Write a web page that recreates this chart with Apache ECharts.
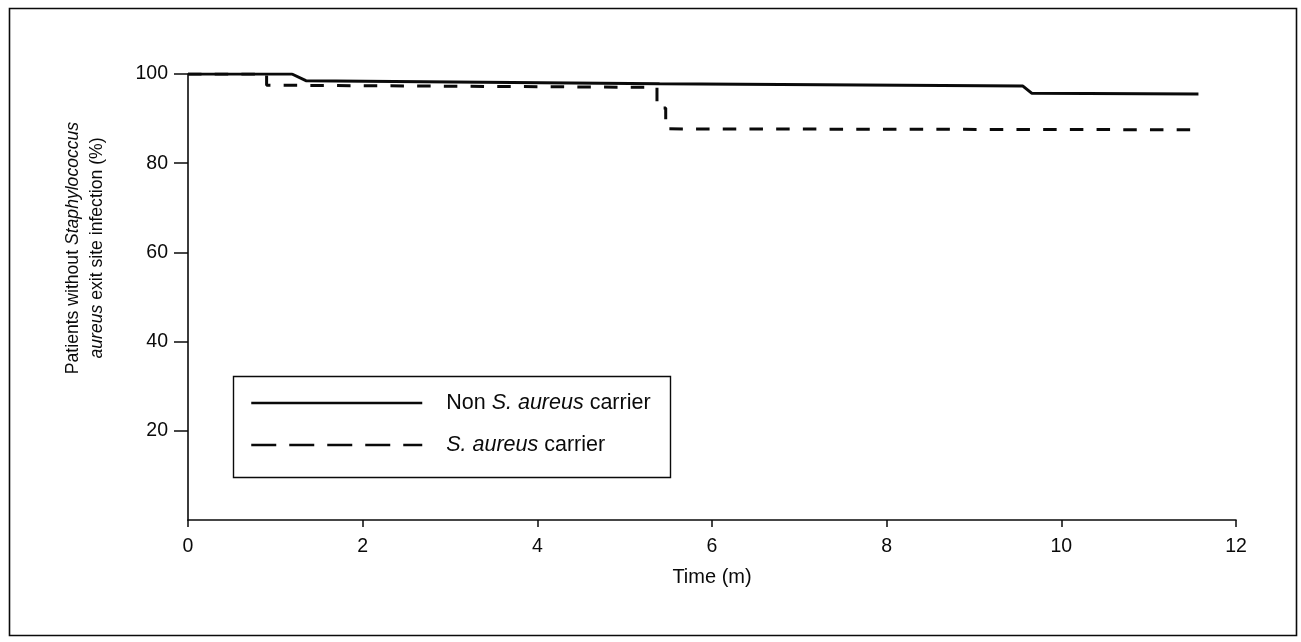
<!DOCTYPE html>
<html>
<head>
<meta charset="utf-8">
<script src="https://cdn.jsdelivr.net/npm/echarts@6/dist/echarts.min.js"></script>
<style>html,body{margin:0;padding:0;background:#fff;}#c{width:1301px;height:642px;}</style>
</head>
<body>
<div id="c"></div>
<script>
// Kaplan-Meier style curves: time (months) and % without S. aureus exit site infection
var nonCarrierTime = [0, 1.19, 1.35, 5.4, 9.56, 9.66, 11.57];
var nonCarrierPct  = [100, 100, 98.5, 97.8, 97.3, 95.7, 95.5];
var carrierTime = [0, 0.9, 0.9, 5.37, 5.37, 5.47, 5.47, 11.51];
var carrierPct  = [100, 100, 97.5, 97.0, 92.4, 92.4, 87.7, 87.5];
var xTicks = [0, 2, 4, 6, 8, 10, 12];
var yTicks = [20, 40, 60, 80, 100];
var seriesNames = ['nonCarrier', 'carrier'];

function pairs(t, v) { return t.map(function (x, i) { return [x, v[i]]; }); }

var FONT = '"Liberation Sans", Arial, Helvetica, sans-serif';
var INK = '#0a0a0a';
var chart = echarts.init(document.getElementById('c'), null, { renderer: 'canvas' });

chart.setOption({
  backgroundColor: '#fff',
  animation: false,
  color: [INK, INK],
  grid: { left: 188, right: 65, top: 74, bottom: 122, containLabel: false },
  xAxis: {
    type: 'value', min: 0, max: 12, interval: 2,
    name: 'Time (m)', nameLocation: 'middle', nameGap: 47,
    nameTextStyle: { fontFamily: FONT, fontSize: 20, color: INK },
    axisLine: { lineStyle: { color: INK, width: 1.6 } },
    axisTick: { show: true, length: 7, lineStyle: { color: INK, width: 1.5 }, customValues: xTicks },
    axisLabel: { fontFamily: FONT, fontSize: 19.5, color: INK, margin: 17, customValues: xTicks },
    splitLine: { show: false }
  },
  yAxis: {
    type: 'value', min: 0, max: 100, interval: 20,
    axisLine: { show: true, lineStyle: { color: INK, width: 1.6 } },
    axisTick: { show: true, length: 14, lineStyle: { color: INK, width: 1.5 }, customValues: yTicks },
    axisLabel: { fontFamily: FONT, fontSize: 19.5, color: INK, margin: 20, customValues: yTicks },
    splitLine: { show: false }
  },
  legend: {
    orient: 'vertical', left: 250, top: 392, padding: 0,
    itemWidth: 171, itemHeight: 22, itemGap: 20,
    itemStyle: { opacity: 0 },
    data: [
      { name: seriesNames[0], lineStyle: { type: 'solid', width: 2.5, color: INK }, itemStyle: { opacity: 0 } },
      { name: seriesNames[1], lineStyle: { type: [25, 13], width: 2.5, color: INK }, itemStyle: { opacity: 0 } }
    ],
    formatter: function (n) {
      return n === 'nonCarrier'
        ? '{p|}{n|Non }{i|S. aureus}{n| carrier}'
        : '{p|}{i|S. aureus}{n| carrier}';
    },
    textStyle: {
      fontFamily: FONT, fontSize: 21.5, color: INK, lineHeight: 22,
      rich: {
        p: { width: 19 },
        n: { fontFamily: FONT, fontSize: 21.5, color: INK, lineHeight: 22 },
        i: { fontFamily: FONT, fontSize: 21.5, color: INK, fontStyle: 'italic', lineHeight: 22 }
      }
    },
    selectedMode: false
  },
  graphic: [
    { type: 'rect', shape: { x: 9.5, y: 8.5, width: 1287, height: 627 },
      style: { fill: 'none', stroke: INK, lineWidth: 1.6 }, silent: true },
    { type: 'rect', shape: { x: 233.5, y: 376.5, width: 437, height: 101 },
      style: { fill: 'none', stroke: INK, lineWidth: 1.4 }, silent: true, z: 0 },
    { type: 'text', x: 85, y: 248, rotation: Math.PI / 2, silent: true,
      style: {
        text: '{n|Patients without }{i|Staphylococcus}\n{i|aureus}{n| exit site infection (%)}',
        align: 'center', verticalAlign: 'middle',
        rich: {
          n: { fontFamily: FONT, fontSize: 17.6, fill: INK, lineHeight: 24 },
          i: { fontFamily: FONT, fontSize: 17.6, fill: INK, fontStyle: 'italic', lineHeight: 24 }
        }
      }
    }
  ],
  series: [
    { name: seriesNames[0], type: 'line', data: pairs(nonCarrierTime, nonCarrierPct),
      showSymbol: false, symbol: 'none', itemStyle: { color: INK },
      lineStyle: { color: INK, width: 3 }, z: 3 },
    { name: seriesNames[1], type: 'line', data: pairs(carrierTime, carrierPct),
      showSymbol: false, symbol: 'none', itemStyle: { color: INK },
      lineStyle: { color: INK, width: 3, type: [13.5, 13.2] }, z: 2 }
  ]
});
</script>
</body>
</html>
